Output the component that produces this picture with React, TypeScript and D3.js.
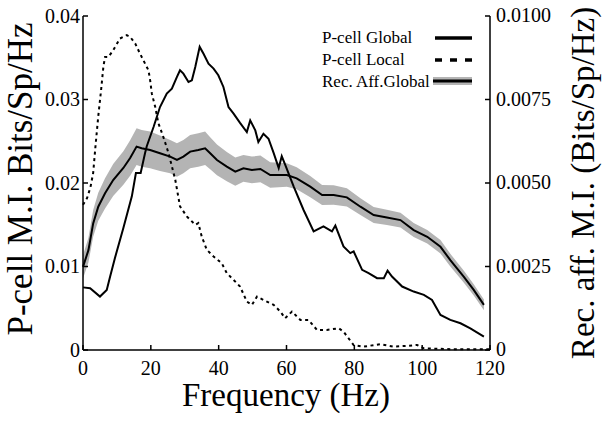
import React from "react";
import * as d3 from "d3";

const xTicks = [0, 20, 40, 60, 80, 100, 120];
const leftTicks = [0, 0.01, 0.02, 0.03, 0.04];
const leftTickLabels = ["0", "0.01", "0.02", "0.03", "0.04"];
const rightTicks = [0, 0.0025, 0.005, 0.0075, 0.01];
const rightTickLabels = ["0", "0.0025", "0.0050", "0.0075", "0.0100"];

// P-cell Global (left axis)
const globalFreq = [0, 2.1, 5.0, 7.0, 8.0, 9.4, 11.9, 14.4, 15.6, 17.0, 18.3, 18.8, 20.8, 22.7, 24.7, 26.2, 27.7, 28.6, 29.6, 31.1, 32.1, 33.1, 34.4, 35.5, 37.0, 38.5, 39.9, 41.4, 42.9, 44.4, 46.3, 48.3, 49.3, 50.8, 51.7, 53.2, 54.7, 56.2, 57.7, 58.6, 59.6, 62.1, 65.0, 68.0, 70.9, 73.4, 74.4, 76.8, 78.8, 79.8, 82.3, 84.2, 86.7, 88.7, 89.8, 91.1, 94.1, 97.5, 100.5, 102.9, 105.4, 108.3, 111.3, 114.2, 118.2];
const globalVal = [0.0075, 0.0074, 0.0064, 0.0072, 0.0088, 0.0110, 0.0146, 0.0184, 0.0212, 0.0212, 0.0236, 0.0244, 0.0267, 0.0291, 0.0307, 0.0313, 0.0327, 0.0335, 0.0331, 0.0321, 0.0323, 0.0339, 0.0363, 0.0355, 0.0343, 0.0337, 0.0329, 0.0315, 0.0291, 0.0283, 0.0272, 0.0261, 0.0275, 0.0263, 0.0249, 0.0259, 0.0253, 0.0236, 0.0218, 0.0232, 0.0222, 0.0196, 0.0168, 0.0142, 0.0148, 0.0142, 0.0149, 0.0124, 0.0116, 0.0118, 0.0096, 0.0092, 0.0086, 0.0086, 0.0095, 0.0088, 0.0076, 0.0070, 0.0066, 0.0060, 0.0042, 0.0036, 0.0032, 0.0026, 0.0016];

// P-cell Local (left axis)
const localFreq = [0, 1.2, 2.2, 3.0, 3.7, 4.5, 5.3, 6.0, 6.5, 7.5, 8.9, 10.9, 12.9, 13.9, 15.4, 16.8, 18.3, 19.3, 19.8, 20.3, 21.3, 22.2, 23.7, 25.2, 26.2, 27.2, 28.6, 30.6, 33.1, 34.0, 35.0, 36.5, 38.5, 40.9, 42.4, 44.4, 46.3, 48.3, 49.8, 51.3, 53.2, 56.2, 58.2, 59.6, 61.6, 64.1, 66.5, 69.0, 71.9, 75.4, 76.8, 78.3, 79.8, 82.7, 87.7, 91.6, 95.6, 98.5, 100.5, 108.3, 117.2, 120];
const localVal = [0.0174, 0.0182, 0.0195, 0.0212, 0.0245, 0.0280, 0.0310, 0.0339, 0.0351, 0.0351, 0.0359, 0.0373, 0.0377, 0.0375, 0.0367, 0.0355, 0.0343, 0.0335, 0.0323, 0.0307, 0.0291, 0.0272, 0.0255, 0.0236, 0.0220, 0.0204, 0.0172, 0.0160, 0.0150, 0.0152, 0.0136, 0.0120, 0.0112, 0.0104, 0.0092, 0.0084, 0.0076, 0.0058, 0.0054, 0.0064, 0.0060, 0.0054, 0.0046, 0.0038, 0.0046, 0.0036, 0.0036, 0.0024, 0.0024, 0.0026, 0.0022, 0.0014, 0.0006, 0.0004, 0.0007, 0.0004, 0.0005, 0.0006, 0.0002, 0.0001, 0.0001, 0.0001];

// Rec. Aff. Global (right axis), mean and half-width of the band
const affFreq = [0, 1.6, 3.0, 4.5, 6.5, 8.9, 11.9, 13.9, 15.8, 17.3, 19.8, 22.7, 25.7, 27.7, 29.6, 31.6, 34.0, 36.0, 37.5, 39.5, 42.4, 44.9, 47.3, 49.8, 52.3, 55.2, 60.1, 63.0, 67.0, 70.5, 73.9, 77.8, 81.8, 85.7, 89.6, 93.6, 97.5, 101.5, 105.4, 108.3, 112.3, 115.2, 118.2];
const affVal = [0.00249, 0.00299, 0.00379, 0.00429, 0.00469, 0.00509, 0.00545, 0.00575, 0.00609, 0.00604, 0.00599, 0.00589, 0.00579, 0.00569, 0.00579, 0.00594, 0.00599, 0.00604, 0.00589, 0.00569, 0.00549, 0.00534, 0.00544, 0.00539, 0.00542, 0.00524, 0.00524, 0.00514, 0.00489, 0.00464, 0.00464, 0.00457, 0.00429, 0.00404, 0.00397, 0.00389, 0.00359, 0.00339, 0.00309, 0.00269, 0.00219, 0.00180, 0.00135];
const affSem = [0.00035, 0.00037, 0.0004, 0.00042, 0.00045, 0.00048, 0.0005, 0.00053, 0.00055, 0.00055, 0.00055, 0.00053, 0.0005, 0.0005, 0.0005, 0.0005, 0.0005, 0.0005, 0.00048, 0.00046, 0.00044, 0.00042, 0.0004, 0.0004, 0.0004, 0.00038, 0.00035, 0.00033, 0.00032, 0.0003, 0.00029, 0.00027, 0.00025, 0.00024, 0.00023, 0.00022, 0.00021, 0.0002, 0.0002, 0.00019, 0.00018, 0.00017, 0.00016];

const legendLabels = ["P-cell Global", "P-cell Local", "Rec. Aff.Global"];

const FONT = "'Liberation Serif', 'Times New Roman', serif";
const GRAY = "#b4b4b4";

export default function App() {
  const W = 603, H = 421;
  const x = d3.scaleLinear().domain([0, 120]).range([83, 490]);
  const yL = d3.scaleLinear().domain([0, 0.04]).range([350, 16]);
  const yR = d3.scaleLinear().domain([0, 0.01]).range([350, 16]);

  const globalData = globalFreq.map((f, i) => [f, globalVal[i]] as [number, number]);
  const localData = localFreq.map((f, i) => [f, localVal[i]] as [number, number]);
  const affData = affFreq.map((f, i) => ({ f, v: affVal[i], s: affSem[i] }));

  const lineL = d3.line<[number, number]>().x(d => x(d[0])).y(d => yL(d[1]));
  const lineR = d3.line<{ f: number; v: number; s: number }>().x(d => x(d.f)).y(d => yR(d.v));
  const areaR = d3.area<{ f: number; v: number; s: number }>()
    .x(d => x(d.f)).y0(d => yR(d.v - d.s)).y1(d => yR(d.v + d.s));

  const tickLen = 5;
  const legX0 = 435, legX1 = 472;

  return (
    <svg width={W} height={H} style={{ position: "absolute", left: 0, top: 0, background: "#fff" }} fontFamily={FONT}>
      <rect x={0} y={0} width={W} height={H} fill="#fff" />
      <path d={areaR(affData) || ""} fill={GRAY} stroke="none" />
      <path d={lineR(affData) || ""} fill="none" stroke="#000" strokeWidth={2} />
      <path d={lineL(globalData) || ""} fill="none" stroke="#000" strokeWidth={2} />
      <path d={lineL(localData) || ""} fill="none" stroke="#000" strokeWidth={2} strokeDasharray="3,3.5" />

      <g stroke="#000" strokeWidth={1.5} fill="none">
        <line x1={x(0)} y1={yL(0.04)} x2={x(0)} y2={yL(0)} />
        <line x1={x(120)} y1={yR(0.01)} x2={x(120)} y2={yR(0)} />
        <line x1={x(0)} y1={yL(0)} x2={x(120)} y2={yL(0)} />
        {xTicks.map(t => <line key={"xt" + t} x1={x(t)} x2={x(t)} y1={yL(0)} y2={yL(0) - tickLen} />)}
        {leftTicks.map(t => <line key={"lt" + t} x1={x(0)} x2={x(0) + tickLen} y1={yL(t)} y2={yL(t)} />)}
        {rightTicks.map(t => <line key={"rt" + t} x1={x(120)} x2={x(120) - tickLen} y1={yR(t)} y2={yR(t)} />)}
      </g>
      <g fontSize={20} fill="#000">
        {xTicks.map(t => (
          <text key={"xl" + t} x={x(t)} y={375} textAnchor="middle">{t}</text>
        ))}
        {leftTicks.map((t, i) => (
          <text key={"ll" + t} x={80} y={yL(t) + 6.5} textAnchor="end">{leftTickLabels[i]}</text>
        ))}
        {rightTicks.map((t, i) => (
          <text key={"rl" + t} x={496} y={yR(t) + 6} textAnchor="start">{rightTickLabels[i]}</text>
        ))}
      </g>
      <text x={286} y={406} fontSize={33} textAnchor="middle" fill="#000">Frequency (Hz)</text>
      <text transform="translate(32,179) rotate(-90)" fontSize={35} textAnchor="middle" fill="#000">P-cell M.I. Bits/Sp/Hz</text>
      <text transform="translate(594,183) rotate(-90)" fontSize={33} textAnchor="middle" fill="#000">Rec. aff. M.I. (Bits/Sp/Hz)</text>

      <g fontSize={17} fill="#000">
        <text x={322} y={43}>{legendLabels[0]}</text>
        <text x={322} y={65}>{legendLabels[1]}</text>
        <text x={322} y={87}>{legendLabels[2]}</text>
      </g>
      <line x1={legX0} x2={legX1} y1={38} y2={38} stroke="#000" strokeWidth={3.5} />
      <line x1={legX0} x2={legX1 + 2} y1={60} y2={60} stroke="#000" strokeWidth={3.5} strokeDasharray="7,8" />
      <line x1={legX0 - 2} x2={legX1} y1={81} y2={81} stroke={GRAY} strokeWidth={8} />
      <line x1={legX0 - 2} x2={legX1} y1={81} y2={81} stroke="#000" strokeWidth={3} />
    </svg>
  );
}
